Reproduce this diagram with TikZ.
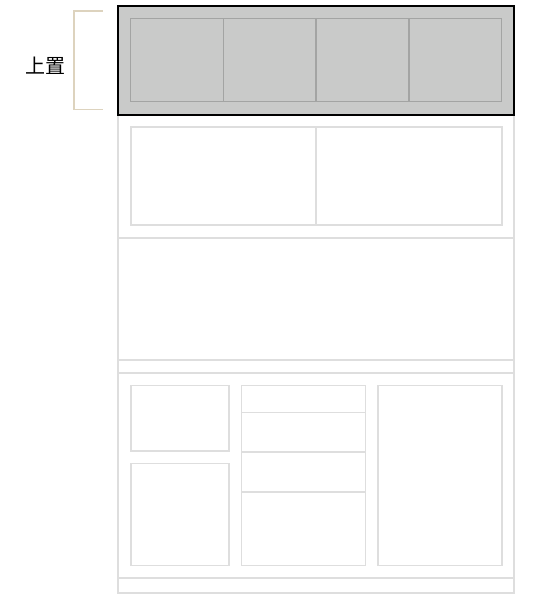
\documentclass[tikz,border=0pt]{standalone}
\usepackage{fontspec}
\newfontfamily\cjk{Noto Sans CJK SC}
\usetikzlibrary{positioning}
\definecolor{headfill}{HTML}{C9CAC9}
\definecolor{headline}{HTML}{A3A4A3}
\definecolor{wireline}{HTML}{DEDEDE}
\definecolor{bracketline}{HTML}{DDD3BE}
\tikzset{
    my-frame/.style={
        draw=wireline, line width=1.8pt
    },
    my-cell/.style={
        draw=wireline, line width=1.6pt
    },
    my-head/.style={
        draw=black, fill=headfill, line width=1.8pt
    },
    my-headcell/.style={
        draw=headline, line width=1.5pt
    },
    my-bracket/.style={
        draw=bracketline, line width=1.4pt
    },
}

\begin{document}
\begin{tikzpicture}[x=1pt, y=-1pt]

        \useasboundingbox (0,0) rectangle (537,600);

        % PAGE FRAME
        \coordinate (PAGETL) at (118,6);
        \coordinate (PAGEBR) at (514,593);
        \draw[my-frame] (PAGETL) rectangle (PAGEBR);
        \draw[my-frame] (118,238)   -- (514,238);
        \draw[my-frame] (118,360)   -- (514,360);
        \draw[my-frame] (118,372.7) -- (514,372.7);
        \draw[my-frame] (118,577.7) -- (514,577.7);

        % HEADER
        \draw[my-head] (118,6) rectangle (514,115);
        \draw[my-headcell] (130.7,18.7) rectangle (501.7,101.7);
        \foreach \x in {223.5, 316, 408.8}
            \draw[my-headcell] (\x,18.7) -- (\x,101.7);

        % SECOND ROW
        \draw[my-cell] (130.7,127) rectangle (501.7,225);
        \draw[my-cell] (316,127) -- (316,225);

        % BOTTOM ROW, LEFT
        \draw[my-cell] (130.7,385.3) rectangle (228.7,450.7);
        \draw[my-cell] (130.7,463.3) rectangle (228.7,565.3);

        % BOTTOM ROW, MIDDLE
        \draw[my-cell] (241.3,385.3) rectangle (365.3,565.3);
        \foreach \y in {412.3, 452, 491.7}
            \draw[my-cell] (241.3,\y) -- (365.3,\y);

        % BOTTOM ROW, RIGHT
        \draw[my-cell] (378,385.3) rectangle (501.7,565.3);

        % LABEL AND BRACKET
        \coordinate (BRTOP) at (102.7,11);
        \coordinate (BRBOT) at (102.7,109.7);
        \draw[my-bracket] (BRTOP) -- (74,11) -- (74,109.7) -- (BRBOT);
        \node[] (TOPLABEL) at (45,65.5) {\cjk\fontsize{20}{22}\selectfont 上置};

    \end{tikzpicture}
\end{document}
